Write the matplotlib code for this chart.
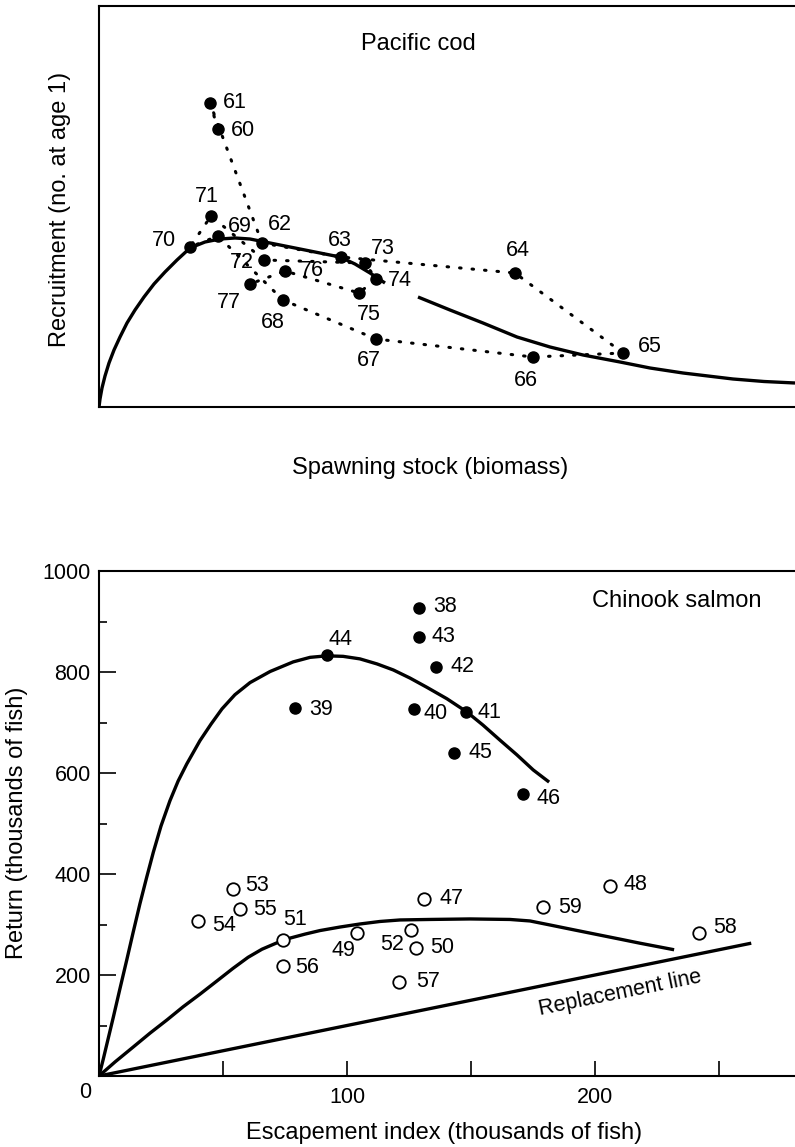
import matplotlib
matplotlib.use("Agg")
import matplotlib.pyplot as plt
from matplotlib.ticker import FixedLocator, NullFormatter, FixedFormatter

plt.rcParams['font.family'] = ['Liberation Sans', 'DejaVu Sans']

# ---------------- Pacific cod (arbitrary units, no scale shown) ----------------
cod_years = ['60', '61', '62', '63', '64', '65', '66', '67', '68',
             '69', '70', '71', '72', '73', '74', '75', '76', '77']
cod_stock = [119, 111, 163, 242, 416, 524, 434, 277, 184,
             119, 91, 112, 165, 266, 277, 260, 186, 151]
cod_recruit = [278, 304, 164, 150, 134, 54, 50, 68, 107,
               171, 160, 191, 147, 144, 128, 114, 136, 123]

# stock-recruitment curve, drawn in two pieces (gap at label "74")
cod_curve1_s = [0, 1, 3, 6, 10, 15, 21, 28, 36, 45, 55, 66, 78, 91, 106, 121, 136,
                151, 166, 181, 196, 211, 226, 241, 256, 271, 286]
cod_curve1_r = [0, 8, 19, 31, 44, 57, 70, 84, 97, 110, 123, 135, 147, 159, 165, 168, 169,
                168, 165, 162, 159, 156, 153, 150, 143, 134, 124]
cod_curve2_s = [319, 351, 384, 418, 451, 484, 521, 551, 584, 634, 665, 696]
cod_curve2_r = [110, 97, 84, 70, 60, 52, 45, 39, 34, 28, 25.5, 24]

# ---------------- Chinook salmon (thousands of fish) ----------------
early_years = ['38', '39', '40', '41', '42', '43', '44', '45', '46']
early_escape = [129, 79, 127, 148, 136, 129, 92, 143, 171]
early_return = [926, 729, 727, 721, 809, 870, 833, 640, 558]

late_years = ['47', '48', '49', '50', '51', '52', '53', '54', '55', '56', '57', '58', '59']
late_escape = [131, 206, 104, 128, 74, 126, 54, 40, 57, 74, 121, 242, 179]
late_return = [350, 377, 283, 254, 270, 290, 371, 306, 330, 217, 187, 283, 334]

early_curve_x = [0, 1.7, 3.6, 5.8, 8.5, 11.2, 13.7, 16.5, 19.2, 21.9, 25.0, 28.6, 31.9,
                 35.4, 40.7, 45.2, 49.6, 54.8, 60.9, 69.0, 78.3, 85.1, 91.8, 98.4, 105.2,
                 112.1, 118.7, 125.4, 132.1, 140.3, 148.3, 154.8, 161.7, 168.5, 175.1, 181.5]
early_curve_y = [0, 33, 72, 117, 174, 230, 283, 341, 393, 443, 495, 545, 584,
                 618, 664, 697, 727, 755, 779, 801, 820, 829, 832, 831, 826,
                 816, 804, 788, 770, 747, 721, 695, 665, 636, 606, 582]

late_curve_x = [0, 6.5, 13.7, 20.6, 27.4, 33.9, 40.7, 47.5, 54.0, 60.1, 65.7, 71.4, 77.0,
                83.1, 89.1, 97.2, 105.2, 113.3, 121.4, 133.5, 149.6, 165.7, 173.8, 181.9,
                191.9, 202.0, 210.1, 218.1, 231.9]
late_curve_y = [0, 28, 57, 85, 111, 137, 162, 188, 213, 235, 251, 263, 273,
                281, 288, 295, 301, 306, 309, 310, 311, 310, 307, 299,
                289, 279, 271, 263, 250]

replacement_x = [0, 263]
replacement_y = [0, 263]

y_ticks_major = [200, 400, 600, 800, 1000]
y_tick_labels = ['200', '400', '600', '800', '1000']
y_ticks_minor = [100, 300, 500, 700, 900]
x_ticks_major = [100, 200]
x_tick_labels = ['100', '200']
x_ticks_minor = [50, 150, 250]

# label offsets in pixels (dx, dy)
cod_offsets = {'60': (25, -1), '61': (25, 1), '62': (18, 18), '63': (-1, 17), '64': (3, 23),
               '65': (27, 7), '66': (-7, -23), '67': (-7, -22), '68': (-10, -22), '69': (22, 9),
               '70': (-26, 7), '71': (-4, 20), '72': (-22, -3), '73': (18, 15), '74': (24, -2),
               '75': (10, -22), '76': (27, 1), '77': (-21, -18)}
early_offsets = {'38': (26, 2), '39': (26, -2), '40': (22, -5), '41': (23, -1), '42': (26, 1),
                 '43': (25, 0), '44': (13, 16), '45': (27, 0), '46': (25, -4)}
late_offsets = {'47': (28, 1), '48': (26, 1), '49': (-13, -17), '50': (26, 0), '51': (13, 20),
                '52': (-19, -15), '53': (24, 3), '54': (26, -4), '55': (25, 0), '56': (25, -1),
                '57': (29, 0), '58': (26, 6), '59': (27, 0)}

W, H = 795, 1147
fig = plt.figure(figsize=(W / 100, H / 100), dpi=100)

LABEL_FS = 15.5
AXIS_FS = 17
CURVE_LW = 2.4
SPINE_LW = 1.5

# ---------------- top panel ----------------
ax1 = fig.add_axes([99 / W, (H - 407) / H, 696 / W, 401 / H])
ax1.set_xlim(0, 696)
ax1.set_ylim(0, 401)
ax1.set_xticks([])
ax1.set_yticks([])
for side in ['left', 'top', 'bottom']:
    ax1.spines[side].set_linewidth(SPINE_LW)
ax1.spines['right'].set_visible(False)

ax1.plot(cod_curve1_s, cod_curve1_r, color='black', lw=CURVE_LW, solid_capstyle='butt',
         solid_joinstyle='round', zorder=2)
ax1.plot(cod_curve2_s, cod_curve2_r, color='black', lw=CURVE_LW, solid_capstyle='butt',
         solid_joinstyle='round', zorder=2)
ax1.plot(cod_stock, cod_recruit, color='black', lw=2.2, linestyle=(0, (0.5, 3.6)),
         dash_capstyle='round', zorder=3)
ax1.plot(cod_stock, cod_recruit, linestyle='none', marker='o', markersize=8,
         color='black', zorder=4)
for yr, s, r in zip(cod_years, cod_stock, cod_recruit):
    dx, dy = cod_offsets[yr]
    ax1.annotate(yr, (s, r), xytext=(dx, dy), textcoords='offset pixels',
                 ha='center', va='center', fontsize=LABEL_FS)

ax1.text(0.459, 0.905, 'Pacific cod', transform=ax1.transAxes, ha='center', va='center',
         fontsize=AXIS_FS)
fig.text(60 / W, 1 - 209 / H, 'Recruitment (no. at age 1)', rotation=90,
         ha='center', va='center', fontsize=AXIS_FS)
fig.text(430 / W, 1 - 468 / H, 'Spawning stock (biomass)', ha='center', va='center',
         fontsize=AXIS_FS)

# ---------------- bottom panel ----------------
ax2 = fig.add_axes([99 / W, (H - 1076) / H, 696 / W, 505 / H])
ax2.set_xlim(0, 696 / 2.48)
ax2.set_ylim(0, 1000)
for side in ['left', 'top', 'bottom']:
    ax2.spines[side].set_linewidth(SPINE_LW)
ax2.spines['right'].set_visible(False)

ax2.yaxis.set_major_locator(FixedLocator(y_ticks_major))
ax2.yaxis.set_major_formatter(FixedFormatter(y_tick_labels))
ax2.yaxis.set_minor_locator(FixedLocator(y_ticks_minor))
ax2.yaxis.set_minor_formatter(NullFormatter())
ax2.xaxis.set_major_locator(FixedLocator(x_ticks_major))
ax2.xaxis.set_major_formatter(FixedFormatter(x_tick_labels))
ax2.xaxis.set_minor_locator(FixedLocator(x_ticks_minor))
ax2.xaxis.set_minor_formatter(NullFormatter())
ax2.tick_params(axis='y', which='major', direction='in', length=12, width=1.2,
                labelsize=LABEL_FS, pad=6)
ax2.tick_params(axis='y', which='minor', direction='in', length=6, width=1.2)
ax2.tick_params(axis='x', which='major', direction='in', length=11, width=1.2,
                labelsize=LABEL_FS, pad=8)
ax2.tick_params(axis='x', which='minor', direction='in', length=10.5, width=1.2)
ax2.tick_params(top=False, right=False, which='both')

for cx, cy in [(early_curve_x, early_curve_y), (late_curve_x, late_curve_y),
               (replacement_x, replacement_y)]:
    ax2.plot(cx, cy, color='black', lw=CURVE_LW, solid_capstyle='butt',
             solid_joinstyle='round', zorder=2)

ax2.plot(early_escape, early_return, linestyle='none', marker='o', markersize=8,
         color='black', zorder=4)
ax2.plot(late_escape, late_return, linestyle='none', marker='o', markersize=9,
         markerfacecolor='white', markeredgecolor='black', markeredgewidth=1.3, zorder=4)

for yr, x, y in zip(early_years, early_escape, early_return):
    dx, dy = early_offsets[yr]
    ax2.annotate(yr, (x, y), xytext=(dx, dy), textcoords='offset pixels',
                 ha='center', va='center', fontsize=LABEL_FS)
for yr, x, y in zip(late_years, late_escape, late_return):
    dx, dy = late_offsets[yr]
    ax2.annotate(yr, (x, y), xytext=(dx, dy), textcoords='offset pixels',
                 ha='center', va='center', fontsize=LABEL_FS)

ax2.text(210, 164, 'Replacement line', rotation=11.5, rotation_mode='anchor',
         ha='center', va='center', fontsize=LABEL_FS)
ax2.text(0.83, 0.94, 'Chinook salmon', transform=ax2.transAxes, ha='center', va='center',
         fontsize=AXIS_FS)
ax2.text(-5.6, -32, '0', ha='center', va='center', fontsize=LABEL_FS, clip_on=False)

fig.text(17 / W, 1 - 823 / H, 'Return (thousands of fish)', rotation=90,
         ha='center', va='center', fontsize=AXIS_FS)
fig.text(444 / W, 1 - 1133 / H, 'Escapement index (thousands of fish)', ha='center',
         va='center', fontsize=AXIS_FS)

fig.savefig('out.png', dpi=100, facecolor='white')
